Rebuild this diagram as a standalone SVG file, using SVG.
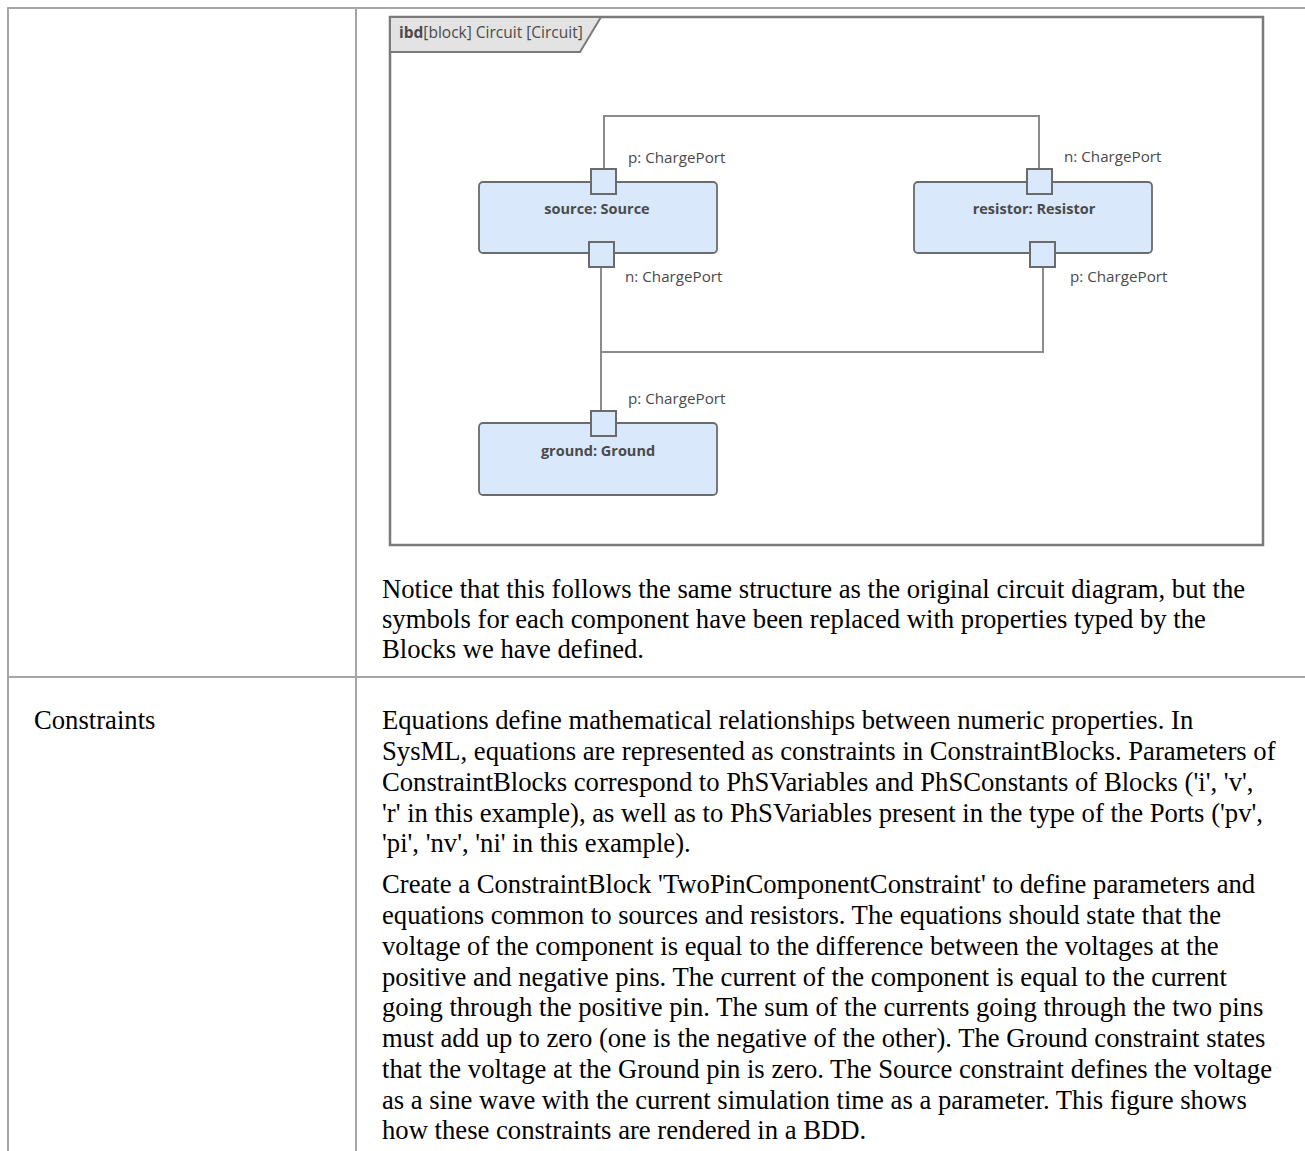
<svg xmlns="http://www.w3.org/2000/svg" width="1305" height="1151" viewBox="0 0 1305 1151">
<style>
.tbl{stroke:#a6a6a6;stroke-width:2;fill:none}
.body{font-family:"Liberation Serif","Times New Roman",serif;font-size:26.67px;fill:#000}
.frame{fill:#fff;stroke:#7a7a7a;stroke-width:2.5}
.tab{fill:#e3e3e3;stroke:#7a7a7a;stroke-width:2}
.blk{fill:#dae8fb;stroke:#6b6b6b;stroke-width:1.8}
.port{fill:#dae8fb;stroke:#6b6b6b;stroke-width:2}
.conn{fill:none;stroke:#8c8c8c;stroke-width:2}
.lbl{font-family:"Open Sans","Noto Sans",sans-serif;font-size:15.2px;fill:#4a4a4a}
.name{font-family:"Open Sans","Noto Sans",sans-serif;font-size:14.5px;font-weight:bold;fill:#4a4a4a;text-anchor:middle}
</style>
<rect width="1305" height="1151" fill="#fff"/>
<g id="table">
<line class="tbl" x1="8" y1="8" x2="1305" y2="8"/>
<line class="tbl" x1="8" y1="7" x2="8" y2="1151"/>
<line class="tbl" x1="356" y1="8" x2="356" y2="1151"/>
<line class="tbl" x1="8" y1="677" x2="1305" y2="677"/>
</g>
<g id="frame">
<rect class="frame" x="390" y="17" width="873" height="528"/>
<path class="tab" d="M390,17 H601 L580,52 H390 Z"/>
<text x="399" y="38" font-family="Open Sans,Noto Sans,sans-serif" font-size="15.5" fill="#4a4a4a"><tspan font-weight="bold">ibd</tspan>[block] Circuit [Circuit]</text>
</g>
<g id="connectors">
<polyline class="conn" points="604,168 604,116 1039,116 1039,168"/>
<polyline class="conn" points="601,267 601,412"/>
<polyline class="conn" points="601,352 1043,352 1043,267"/>
</g>
<g id="source">
<rect class="blk" x="479" y="182" width="238" height="71" rx="4"/>
<text class="name" x="597" y="214">source: Source</text>
<rect class="port" x="591" y="169" width="25" height="25"/>
<text class="lbl" x="628" y="163">p: ChargePort</text>
<rect class="port" x="589" y="242" width="25" height="25"/>
<text class="lbl" x="625" y="282">n: ChargePort</text>
</g>
<g id="resistor">
<rect class="blk" x="914" y="182" width="238" height="71" rx="4"/>
<text class="name" x="1034" y="214">resistor: Resistor</text>
<rect class="port" x="1027" y="169" width="25" height="25"/>
<text class="lbl" x="1064" y="162">n: ChargePort</text>
<rect class="port" x="1030" y="242" width="25" height="25"/>
<text class="lbl" x="1070" y="282">p: ChargePort</text>
</g>
<g id="ground">
<rect class="blk" x="479" y="423" width="238" height="72" rx="4"/>
<text class="name" x="598" y="456">ground: Ground</text>
<rect class="port" x="591" y="411" width="25" height="25"/>
<text class="lbl" x="628" y="404">p: ChargePort</text>
</g>
<g id="text1">
<text class="body" x="382" y="598">Notice that this follows the same structure as the original circuit diagram, but the</text>
<text class="body" x="382" y="628">symbols for each component have been replaced with properties typed by the</text>
<text class="body" x="382" y="658">Blocks we have defined.</text>
</g>
<g id="text2">
<text class="body" x="34" y="729">Constraints</text>
<text class="body" x="382" y="729">Equations define mathematical relationships between numeric properties. In</text>
<text class="body" x="382" y="760">SysML, equations are represented as constraints in ConstraintBlocks. Parameters of</text>
<text class="body" x="382" y="791">ConstraintBlocks correspond to PhSVariables and PhSConstants of Blocks ('i', 'v',</text>
<text class="body" x="382" y="822">'r' in this example), as well as to PhSVariables present in the type of the Ports ('pv',</text>
<text class="body" x="382" y="852">'pi', 'nv', 'ni' in this example).</text>
<text class="body" x="382" y="893">Create a ConstraintBlock 'TwoPinComponentConstraint' to define parameters and</text>
<text class="body" x="382" y="924">equations common to sources and resistors. The equations should state that the</text>
<text class="body" x="382" y="955">voltage of the component is equal to the difference between the voltages at the</text>
<text class="body" x="382" y="986">positive and negative pins. The current of the component is equal to the current</text>
<text class="body" x="382" y="1016">going through the positive pin. The sum of the currents going through the two pins</text>
<text class="body" x="382" y="1047">must add up to zero (one is the negative of the other). The Ground constraint states</text>
<text class="body" x="382" y="1078">that the voltage at the Ground pin is zero. The Source constraint defines the voltage</text>
<text class="body" x="382" y="1109">as a sine wave with the current simulation time as a parameter. This figure shows</text>
<text class="body" x="382" y="1139">how these constraints are rendered in a BDD.</text>
</g>
</svg>
